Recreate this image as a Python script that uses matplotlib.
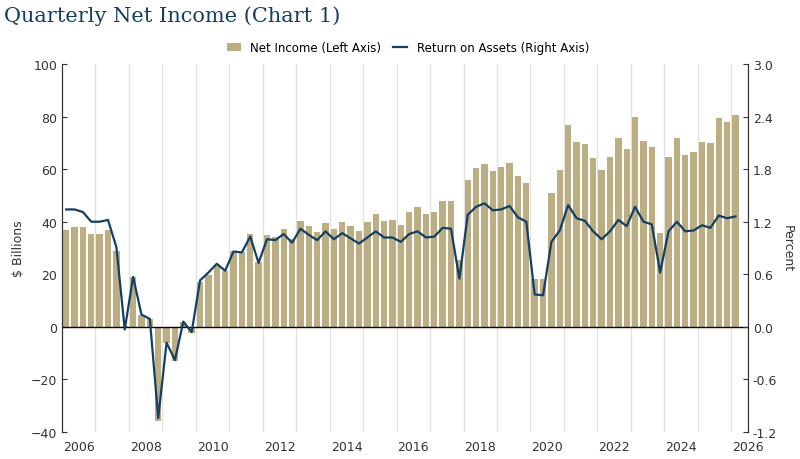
import numpy as np
import matplotlib.pyplot as plt

# quarterly, starting 2006 Q1
net_income = [
    36.7, 38.0, 38.0, 35.2,
    35.4, 36.7, 28.7, 0.3,
    19.0, 4.6, 2.9, -35.9,
    -6.0, -13.0, 1.7, -2.2,
    17.2, 19.9, 23.3, 21.4,
    28.8, 28.4, 35.2, 24.6,
    34.8, 34.1, 37.3, 33.5,
    40.3, 38.2, 36.0, 39.6,
    37.3, 39.9, 38.3, 36.4,
    39.9, 42.9, 40.3, 40.5,
    38.9, 43.7, 45.5, 43.1,
    43.8, 47.9, 47.8, 25.5,
    55.8, 60.3, 61.9, 59.4,
    60.9, 62.5, 57.3, 54.9,
    18.2, 18.2, 51.1, 59.5,
    76.8, 70.4, 69.6, 64.1,
    59.7, 64.5, 71.7, 67.6,
    80.0, 70.8, 68.3, 35.7,
    64.7, 71.7, 65.4, 66.6,
    70.4, 70.1, 79.4, 77.8,
    80.6,
]
roa = [
    1.34, 1.34, 1.31, 1.20,
    1.20, 1.22, 0.91, -0.03,
    0.57, 0.14, 0.09, -1.04,
    -0.18, -0.38, 0.06, -0.06,
    0.53, 0.62, 0.72, 0.64,
    0.86, 0.85, 1.03, 0.73,
    1.00, 0.99, 1.06, 0.96,
    1.12, 1.05, 0.99, 1.09,
    1.00, 1.07, 1.01, 0.95,
    1.02, 1.09, 1.02, 1.02,
    0.97, 1.06, 1.09, 1.02,
    1.03, 1.13, 1.12, 0.55,
    1.28, 1.37, 1.41, 1.33,
    1.34, 1.38, 1.25, 1.20,
    0.37, 0.36, 0.97, 1.10,
    1.39, 1.24, 1.21, 1.09,
    1.00, 1.09, 1.22, 1.15,
    1.37, 1.20, 1.17, 0.62,
    1.09, 1.20, 1.09, 1.10,
    1.16, 1.13, 1.27, 1.24,
    1.26,
]
year_labels = list(range(2006, 2027, 2))

x = 2006 + 0.25 * (np.arange(len(net_income)) + 0.5)

fig = plt.figure(figsize=(8, 4.6), dpi=100)
ax = fig.add_axes([62 / 800, 27 / 460, 686 / 800, 368 / 460])
ax2 = ax.twinx()

for yr in range(2007, 2027):
    ax.axvline(yr, color='#e3e3e3', lw=1, zorder=0)
ax.bar(x, net_income, width=0.19, color='#bcae82', zorder=2, label='Net Income (Left Axis)')
ax.axhline(0, color='black', lw=1, zorder=3)
ax2.plot(x, roa, color='#123f63', lw=1.6, label='Return on Assets (Right Axis)')

ax.set_xlim(2006, 2026.25)
ax.set_ylim(-40, 100)
ax2.set_ylim(-1.2, 3.0)
ax.set_yticks(range(-40, 101, 20))
ax2.set_yticks(np.arange(-1.2, 3.01, 0.6))
ax2.set_yticklabels([f'{v:.1f}' for v in np.arange(-1.2, 3.01, 0.6)])
ax.set_xticks([y + 0.5 for y in year_labels])
ax.set_xticklabels([str(y) for y in year_labels])
ax.tick_params(axis='x', length=0, labelsize=9, colors='#333333', pad=6)
ax.tick_params(axis='y', labelsize=9, colors='#333333', direction='in')
ax2.tick_params(axis='y', labelsize=9, colors='#333333', direction='in')

for a in (ax, ax2):
    a.spines['top'].set_visible(False)
    a.spines['bottom'].set_visible(False)
    a.spines['left'].set_color('#333333')
    a.spines['right'].set_color('#333333')

ax.set_ylabel('$ Billions', fontsize=9, color='#333333')
ax2.set_ylabel('Percent', fontsize=9, color='#333333', rotation=270, labelpad=12)

h1, l1 = ax.get_legend_handles_labels()
h2, l2 = ax2.get_legend_handles_labels()
fig.legend(h1 + h2, l1 + l2, loc='center', bbox_to_anchor=(0.51, 0.895), ncol=2,
           frameon=False, fontsize=8.5, handlelength=1.2, columnspacing=1.0)

fig.text(0.005, 0.965, 'Quarterly Net Income (Chart 1)', fontsize=15, family='DejaVu Serif',
         color='#123f63', va='center')

fig.savefig('out.png')
